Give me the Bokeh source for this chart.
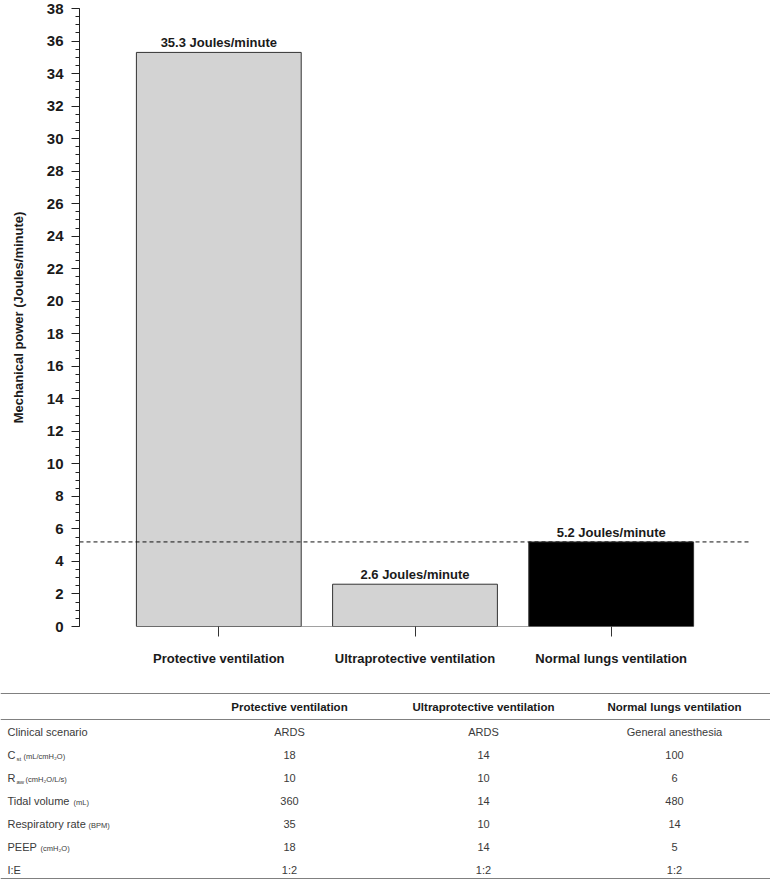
from bokeh.plotting import figure
from bokeh.models import Range1d, Span, FixedTicker, FactorRange
from bokeh.layouts import column
from bokeh.embed import file_html
from bokeh.resources import INLINE
from bokeh.core.properties import value

FONT = "Liberation Sans"

# ---------------- data ----------------
categories = ["Protective ventilation", "Ultraprotective ventilation", "Normal lungs ventilation"]
power = [35.3, 2.6, 5.2]
bar_colors = ["#d3d3d3", "#d3d3d3", "#000000"]
reference_power = 5.2
y_ticks = list(range(0, 39, 2))
y_minor = [i * 0.5 for i in range(0, 77)]

row_labels = ["Clinical scenario", "C", "R", "Tidal volume", "Respiratory rate", "PEEP", "I:E"]
row_subs = ["", "st", "aw", "", "", "", ""]
row_units = ["", "(mL/cmH\u2082O)", "(cmH\u2082O/L/s)", "(mL)", "(BPM)", "(cmH\u2082O)", ""]
protective = ["ARDS", "18", "10", "360", "35", "18", "1:2"]
ultraprotective = ["ARDS", "14", "10", "14", "10", "14", "1:2"]
normal = ["General anesthesia", "100", "6", "480", "14", "5", "1:2"]

# ---------------- chart ----------------
W = 770
CH = 672
p = figure(width=W, height=CH, x_range=FactorRange(factors=categories, range_padding=0.14),
           y_range=Range1d(0, 38), output_backend="svg", toolbar_location=None,
           min_border_left=79, min_border_right=20, min_border_top=8, min_border_bottom=46)
p.frame_align = False
p.outline_line_color = None
p.grid.grid_line_color = None
p.background_fill_color = "white"

p.vbar(x=categories, top=power, width=0.84, fill_color=bar_colors, line_color="#333333", line_width=1)
p.segment(x0=[(categories[0], -0.42)], x1=[(categories[-1], 0.42)], y0=[0], y1=[0],
          line_color="#444444", line_width=1)
p.text(x=categories, y=power, text=[f"{v} Joules/minute" for v in power],
       text_align="center", text_baseline="bottom", y_offset=-2,
       text_font=value(FONT), text_font_style="bold", text_font_size="13px", text_color="#1a1a1a")
p.add_layout(Span(location=reference_power, dimension="width", line_color="#111111",
                  line_dash="4 3", line_width=1))

ya = p.yaxis[0]
ya.ticker = FixedTicker(ticks=y_ticks, minor_ticks=y_minor)
ya.axis_line_color = "#222222"
ya.major_tick_line_color = "#222222"
ya.minor_tick_line_color = "#222222"
ya.major_tick_out = 8
ya.major_tick_in = 0
ya.minor_tick_out = 4
ya.minor_tick_in = 0
ya.major_label_standoff = 8
ya.major_label_text_font = FONT
ya.major_label_text_font_style = "bold"
ya.major_label_text_font_size = "15px"
ya.major_label_text_color = "#1a1a1a"
ya.axis_label = "Mechanical power (Joules/minute)"
ya.axis_label_text_font = FONT
ya.axis_label_text_font_style = "bold"
ya.axis_label_text_font_size = "13px"
ya.axis_label_text_color = "#1a1a1a"
ya.axis_label_standoff = 18

xa = p.xaxis[0]
xa.axis_line_color = None
xa.major_tick_line_color = "#333333"
xa.major_tick_out = 10
xa.major_tick_in = 0
xa.minor_tick_line_color = None
xa.major_label_standoff = 14
xa.major_label_text_font = FONT
xa.major_label_text_font_style = "bold"
xa.major_label_text_font_size = "13px"
xa.major_label_text_color = "#1a1a1a"

# ---------------- table ----------------
TH = 208
t = figure(width=W, height=TH, x_range=Range1d(0, W), y_range=Range1d(TH, 0),
           output_backend="svg", toolbar_location=None,
           x_axis_location=None, y_axis_location=None,
           min_border_left=0, min_border_right=0, min_border_top=0, min_border_bottom=0)
t.frame_align = False
t.grid.grid_line_color = None
t.outline_line_color = None

top_line, header_y, header_line, first_row, row_step, bottom_line = 21, 34, 47, 59, 23.0, 206
col_x = [289, 483, 674]
label_x = 7
sub_x = [0, 9, 9, 0, 0, 0, 0]
unit_x = [0, 16, 18, 66, 81, 33, 0]

t.segment(x0=[0, 0, 0], x1=[W, W, W], y0=[top_line, header_line, bottom_line],
          y1=[top_line, header_line, bottom_line], line_color="#808080", line_width=1.2)

t.text(x=col_x, y=[header_y] * 3, text=categories, text_align="center", text_baseline="middle",
       text_font=value(FONT), text_font_style="bold", text_font_size="11.5px", text_color="#1a1a1a")

rows_y = [first_row + i * row_step for i in range(len(row_labels))]
t.text(x=[label_x] * len(row_labels), y=rows_y, text=row_labels, text_align="left",
       text_baseline="middle", text_font=value(FONT), text_font_size="11px", text_color="#3a3a3a")
sub_idx = [i for i, s in enumerate(row_subs) if s]
t.text(x=[label_x + sub_x[i] for i in sub_idx], y=[rows_y[i] for i in sub_idx],
       text=[row_subs[i] for i in sub_idx], text_align="left", text_baseline="middle", y_offset=4,
       text_font=value(FONT), text_font_size="6px", text_color="#3a3a3a")
unit_idx = [i for i, s in enumerate(row_units) if s]
t.text(x=[label_x + unit_x[i] for i in unit_idx], y=[rows_y[i] for i in unit_idx],
       text=[row_units[i] for i in unit_idx], text_align="left", text_baseline="middle", y_offset=1.5,
       text_font=value(FONT), text_font_size="7.5px", text_color="#3a3a3a")

for cx, vals in zip(col_x, [protective, ultraprotective, normal]):
    t.text(x=[cx] * len(vals), y=rows_y, text=vals, text_align="center", text_baseline="middle",
           text_font=value(FONT), text_font_size="11px", text_color="#3a3a3a")

layout = column(p, t, spacing=0)
open("out.html", "w").write(file_html(layout, INLINE))
